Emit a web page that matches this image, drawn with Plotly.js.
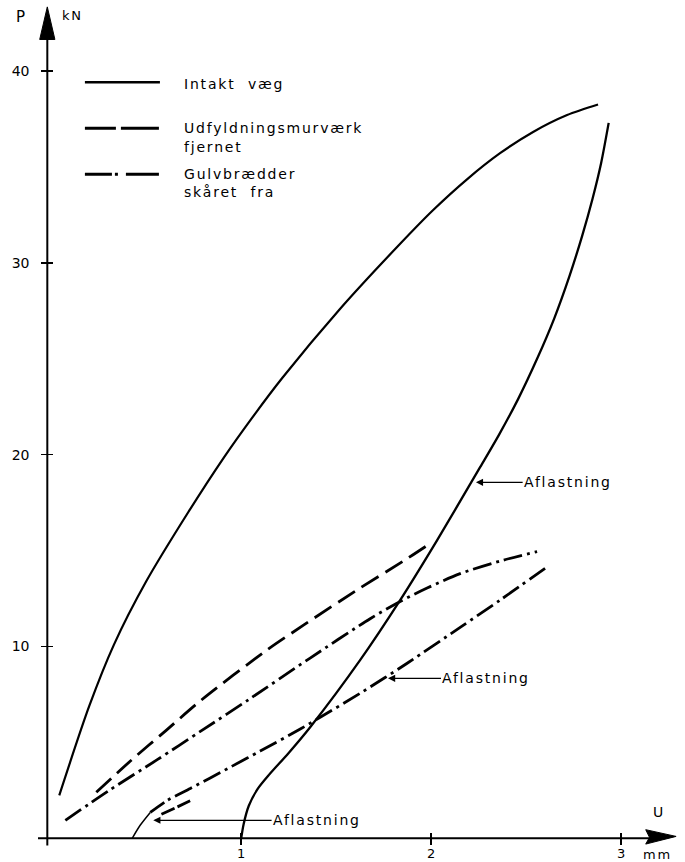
<!DOCTYPE html>
<html><head><meta charset="utf-8">
<script src="https://cdn.plot.ly/plotly-3.0.1.min.js"></script>
<style>
html,body{margin:0;padding:0;background:#fff;}
#chart{width:685px;height:862px;}
.annotation-text{letter-spacing:1.8px;}
</style></head><body><div id="chart"></div>
<script>
// ---- data (U in mm, P in kN) ----
const intaktLoadU   = [0.042, 0.2, 0.33, 0.50, 0.721, 0.905, 1.063, 1.216, 1.52, 1.837, 2.011, 2.189, 2.363, 2.537, 2.716, 2.879];
const intaktLoadP   = [2.24, 6.9, 10.1, 13.4, 17.0, 19.8, 22.0, 24.0, 27.6, 31.0, 32.76, 34.36, 35.72, 36.83, 37.71, 38.26];
const intaktUnloadU = [2.935, 2.895, 2.85, 2.795, 2.728, 2.648, 2.558, 2.458, 2.358, 2.258, 2.032, 1.837, 1.626, 1.363, 1.25, 1.15, 1.085, 1.04, 1.013, 1.0];
const intaktUnloadP = [37.3, 35.2, 33.35, 31.4, 29.3, 27.1, 25.0, 22.9, 21.05, 19.35, 15.55, 12.42, 9.29, 5.79, 4.45, 3.35, 2.55, 1.7, 0.75, 0];

const fjernetLoadU   = [0.237, 0.421, 0.605, 0.789, 1.126, 1.326, 1.626, 1.853, 2.005];
const fjernetLoadP   = [2.4, 4.07, 5.63, 7.2, 9.75, 11.1, 13.05, 14.45, 15.44];
const fjernetUnloadU = [0.58, 0.66, 0.74];
const fjernetUnloadP = [1.25, 1.62, 2.0];

const gulvLoadU   = [0.074, 0.305, 0.558, 0.789, 1.042, 1.363, 1.679, 1.837, 1.979, 2.153, 2.379, 2.558];
const gulvLoadP   = [0.94, 2.5, 4.1, 5.6, 7.25, 9.4, 11.45, 12.35, 13.05, 13.8, 14.5, 14.95];
const gulvUnloadU = [2.6, 2.363, 2.153, 1.874, 1.626, 1.416, 1.311, 1.1, 0.95, 0.837, 0.732, 0.611, 0.521];
const gulvUnloadP = [14.08, 12.42, 11.0, 9.13, 7.56, 6.31, 5.7, 4.55, 3.75, 3.15, 2.6, 1.98, 1.35];
const gulvTailU   = [0.521, 0.468, 0.426];
const gulvTailP   = [1.35, 0.68, 0.0];

const xTickVals = [1, 2, 3];
const xTickText = ['1', '2', '3'];
const yTickVals = [10, 20, 30, 40];
const yTickText = ['10', '20', '30', '40'];

const seriesNames = ['Intakt væg', 'Udfyldningsmurværk fjernet', 'Gulvbrædder skåret fra'];
const unloadLabel = 'Aflastning';

// ---- styling ----
const FONT = 'DejaVu Sans, Liberation Sans, sans-serif';
const K = '#000';
const DASH = '20px,8px';
const DASHDOT = '19px,5px,3px,5px';
const W = 685, H = 862;
const M = {l: 38, r: 7, t: 4, b: 16};
const XR = [-0.07, 3.3], YR = [-0.4, 43.5];
const AX_X = -0.021; // where the vertical axis sits
const posX = (0 - YR[0]) / (YR[1] - YR[0]);
const posY = (AX_X - XR[0]) / (XR[1] - XR[0]);
const pw = W - M.l - M.r, ph = H - M.t - M.b;
const paperX = px => (px - M.l) / pw;
const paperY = py => (H - M.b - py) / ph;

function ln(x, y, name, dash, width, group) {
  return {x: x, y: y, type: 'scatter', mode: 'lines', name: name, legendgroup: group,
    showlegend: false, hoverinfo: 'skip',
    line: {color: K, width: width, dash: dash, shape: 'spline', smoothing: 0.8}};
}
const traces = [
  ln(intaktLoadU, intaktLoadP, seriesNames[0], 'solid', 2.2, 'a'),
  ln(intaktUnloadU, intaktUnloadP, seriesNames[0] + ' – ' + unloadLabel, 'solid', 2.3, 'a'),
  ln(fjernetLoadU, fjernetLoadP, seriesNames[1], DASH, 2.8, 'b'),
  ln(fjernetUnloadU, fjernetUnloadP, seriesNames[1] + ' – ' + unloadLabel, '14px,4px', 2.8, 'b'),
  ln(gulvLoadU, gulvLoadP, seriesNames[2], DASHDOT, 2.8, 'c'),
  ln(gulvUnloadU, gulvUnloadP, seriesNames[2] + ' – ' + unloadLabel, DASHDOT, 2.8, 'c'),
  ln(gulvTailU, gulvTailP, seriesNames[2] + ' – ' + unloadLabel, 'solid', 1.5, 'c'),
  {x: [null], y: [null], xaxis: 'x2', yaxis: 'y2', type: 'scatter', mode: 'lines', showlegend: false, hoverinfo: 'skip'}
];

const tf = {family: FONT, size: 14, color: K};
const baseAx = {showgrid: false, zeroline: false, showline: false, tickcolor: K, tickwidth: 1.5, tickmode: 'array', fixedrange: true};

// legend keys drawn like the original's embedded key
const legendRows = [
  {y: 39.42, dash: 'solid', w: 2.6},
  {y: 37.02, dash: '31px,5px,38px,10px', w: 3},
  {y: 34.62, dash: '27px,3px,3px,8px,33px,5px', w: 3}
];
const legX0 = 0.177, legX1 = 0.572, legTextX = 0.69;

const shapes = [
  {type: 'line', xref: 'x', yref: 'y', x0: AX_X, x1: AX_X, y0: -0.37, y1: 42.2, line: {color: K, width: 2}},
  {type: 'line', xref: 'x', yref: 'y', x0: -0.07, x1: 3.2, y0: 0, y1: 0, line: {color: K, width: 2}},
  {type: 'path', xref: 'x', yref: 'y', path: `M${AX_X},43.35 L${AX_X - 0.04},41.65 L${AX_X + 0.04},41.65 Z`, fillcolor: K, line: {color: K, width: 1}},
  {type: 'path', xref: 'x', yref: 'y', path: 'M3.29,0.1 L3.13,0.45 L3.15,0.05 L3.13,-0.3 Z', fillcolor: K, line: {color: K, width: 1}}
];
legendRows.forEach(r => shapes.push({type: 'line', xref: 'x', yref: 'y', x0: legX0, x1: legX1, y0: r.y, y1: r.y, line: {color: K, width: r.w, dash: r.dash}}));

const af = {family: FONT, size: 14, color: K};
function txt(x, y, t, xa, size) {
  return {x: x, y: y, xref: 'x', yref: 'y', text: t, showarrow: false, xanchor: xa || 'left', yanchor: 'middle', font: {family: FONT, size: size || 14, color: K}};
}
function ptxt(px, py, t, size) {
  return {x: paperX(px), y: paperY(py), xref: 'paper', yref: 'paper', text: t, showarrow: false, xanchor: 'center', yanchor: 'middle', font: {family: FONT, size: size || 14, color: K}};
}
function arrowLbl(xTip, yTip, xTail, t) {
  return {x: xTip, y: yTip, ax: xTail, ay: yTip, axref: 'x', ayref: 'y', xref: 'x', yref: 'y', text: t,
    showarrow: true, arrowhead: 2, arrowsize: 1.1, arrowwidth: 1.3, arrowcolor: K, standoff: 0, startstandoff: 0,
    xanchor: 'left', yanchor: 'middle', font: af, borderpad: 0};
}
const annotations = [
  ptxt(21, 17, 'P', 15),
  txt(0.11, 42.9, 'kN', 'center', 13),
  txt(3.2, 1.36, 'U', 'center', 14),
  ptxt(657, 854, 'mm', 13),
  txt(legTextX, 39.31, 'Intakt  væg'),
  txt(legTextX, 37.02, 'Udfyldningsmurværk'),
  txt(legTextX, 36.03, 'fjernet'),
  txt(legTextX, 34.62, 'Gulvbrædder'),
  txt(legTextX, 33.68, 'skåret  fra'),
  arrowLbl(2.236, 18.56, 2.482, unloadLabel),
  arrowLbl(1.773, 8.34, 2.052, unloadLabel),
  arrowLbl(0.537, 0.94, 1.16, unloadLabel)
];

const layout = {
  width: W, height: H,
  margin: M,
  paper_bgcolor: '#fff', plot_bgcolor: '#fff',
  showlegend: false,
  font: {family: FONT, color: K},
  xaxis: Object.assign({}, baseAx, {range: XR, anchor: 'free', position: posX, ticks: 'outside', ticklen: 6,
    tickvals: xTickVals, showticklabels: false}),
  yaxis: Object.assign({}, baseAx, {range: YR, anchor: 'free', position: posY, ticks: 'outside', ticklen: 6,
    tickvals: yTickVals, ticktext: yTickText, tickfont: tf, ticklabelstandoff: 9}),
  xaxis2: Object.assign({}, baseAx, {range: XR, overlaying: 'x', anchor: 'free', position: posX, ticks: 'inside', ticklen: 5,
    tickvals: xTickVals, ticktext: xTickText, tickfont: {family: FONT, size: 13, color: K}, ticklabelstandoff: 6}),
  yaxis2: Object.assign({}, baseAx, {range: YR, overlaying: 'y', anchor: 'free', position: posY, ticks: 'inside', ticklen: 5,
    tickvals: yTickVals, showticklabels: false}),
  shapes: shapes,
  annotations: annotations
};

Plotly.newPlot('chart', traces, layout, {displayModeBar: false, staticPlot: true});
</script></body></html>
